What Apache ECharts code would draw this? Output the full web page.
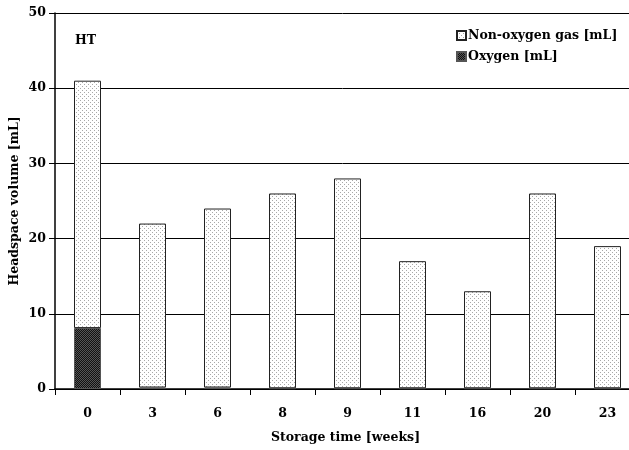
<!DOCTYPE html>
<html><head><meta charset="utf-8">
<script src="https://cdn.jsdelivr.net/npm/echarts@6/dist/echarts.min.js"></script>
<style>html,body{margin:0;padding:0;background:#fff}#c{width:629px;height:450px}</style>
</head><body><div id="c"></div>
<script>
const weeks = ['0','3','6','8','9','11','16','20','23'];
const oxygen = [8.1, 0.2, 0.2, 0.1, 0.1, 0.1, 0.1, 0.1, 0.1];
const nonOxygen = [32.9, 21.8, 23.8, 25.9, 27.9, 16.9, 12.9, 25.9, 18.9];
const yTicks = [0, 10, 20, 30, 40, 50];

function makePattern(bg, dot, size, pts) {
  const c = document.createElement('canvas');
  c.width = size; c.height = size;
  const g = c.getContext('2d');
  g.fillStyle = bg; g.fillRect(0, 0, size, size);
  g.fillStyle = dot;
  pts.forEach(p => g.fillRect(p[0], p[1], 1, 1));
  return c;
}
const lightPat = makePattern('#ffffff', '#a8a8a8', 4, [[0,0],[2,2]]);
const darkPat = (function(){
  const c = document.createElement('canvas'); c.width = 2; c.height = 2;
  const g = c.getContext('2d');
  g.fillStyle = '#111'; g.fillRect(0,0,2,2);
  g.fillStyle = '#555'; g.fillRect(0,0,1,1); g.fillRect(1,1,1,1);
  return c;
})();

const font = 'DejaVu Serif';
const fs = 12.5;
const chart = echarts.init(document.getElementById('c'), null, {renderer: 'canvas'});
chart.setOption({
  animation: false,
  backgroundColor: '#fff',
  grid: {left: 55, top: 13, right: -11, bottom: 61, containLabel: false, outerBoundsMode: 'none'},
  legend: {
    orient: 'vertical', left: 451, top: 24, itemWidth: 9, itemHeight: 9, itemGap: 8,
    icon: 'rect',
    data: ['Non-oxygen gas [mL]', 'Oxygen [mL]'],
    textStyle: {fontFamily: font, fontWeight: 'bold', fontSize: fs, color: '#000', padding: [0,0,0,-3]}
  },
  graphic: [{type: 'text', left: 75, top: 34, style: {text: 'HT', font: 'bold 12.5px "DejaVu Serif"', fill: '#000'}}],
  xAxis: {
    type: 'category', data: weeks,
    name: 'Storage time [weeks]', nameLocation: 'middle', nameGap: 42, nameMoveOverlap: false,
    nameTextStyle: {fontFamily: font, fontWeight: 'bold', fontSize: fs, color: '#000', padding: [0,0,0,-4]},
    axisLine: {lineStyle: {color: '#000', width: 1.5}},
    axisTick: {show: true, length: 6, lineStyle: {color: '#000'}},
    axisLabel: {fontFamily: font, fontWeight: 'bold', fontSize: fs, color: '#000', margin: 18}
  },
  yAxis: {
    type: 'value', min: 0, max: 50, interval: 10,
    name: 'Headspace volume [mL]', nameLocation: 'middle', nameGap: 34, nameMoveOverlap: false,
    nameTextStyle: {fontFamily: font, fontWeight: 'bold', fontSize: fs, color: '#000'},
    axisLine: {show: true, lineStyle: {color: '#000', width: 1.5}},
    axisTick: {show: true, length: 6, lineStyle: {color: '#000'}},
    axisLabel: {fontFamily: font, fontWeight: 'bold', fontSize: fs, color: '#000', margin: 9,
      formatter: v => yTicks.includes(v) ? String(v) : ''},
    splitLine: {lineStyle: {color: '#000', width: 1}}
  },
  series: [
    {name: 'Oxygen [mL]', type: 'bar', stack: 's', data: oxygen, barWidth: 27,
     itemStyle: {color: {image: darkPat, repeat: 'repeat'}, borderColor: '#555', borderWidth: 1}},
    {name: 'Non-oxygen gas [mL]', type: 'bar', stack: 's', data: nonOxygen, barWidth: 27,
     itemStyle: {color: {image: lightPat, repeat: 'repeat'}, borderColor: '#222', borderWidth: 1}}
  ]
});
</script></body></html>
